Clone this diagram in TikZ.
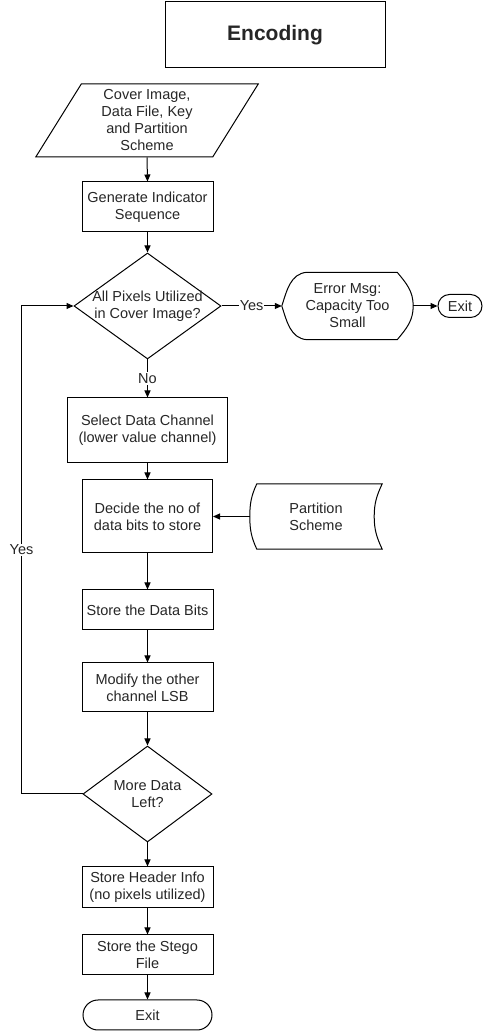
\documentclass[tikz,border=0pt]{standalone}
\usepackage{fontspec}
\setmainfont{Liberation Sans}
\usetikzlibrary{shapes.geometric,shapes.misc,arrows.meta}

\begin{document}
\begin{tikzpicture}
  [x=1pt, y=1pt,
    >={Triangle[length=7pt,width=6pt]},
    every node/.style={font=\fontsize{14.5}{17}\selectfont, text=black!85, align=center, inner sep=1pt},
    process/.style={draw, line width=1pt, minimum width=131pt, minimum height=40pt},
    decision/.style={draw, diamond, line width=1pt, inner sep=0pt},
    term/.style={draw, rounded rectangle, line width=1pt, minimum width=131pt, minimum height=30pt},
    io/.style={draw, trapezium, trapezium left angle=63, trapezium right angle=117,
      trapezium stretches=true, line width=1pt, minimum width=223pt, minimum height=73pt},
    flow/.style={->, line width=1pt},
    lbl/.style={fill=white, inner sep=1pt},
]
\useasboundingbox (0,0) rectangle (487,1032);

\node[draw, line width=1pt, minimum width=220pt, minimum height=66pt,
  font=\bfseries\fontsize{21}{25}\selectfont] (title) at (275,997) {Encoding};

\node[io] (input) at (147,911.5) {Cover Image,\\Data File, Key\\and Partition\\Scheme};
\node[process, minimum height=50pt] (gen) at (147.5,825) {Generate Indicator\\Sequence};
\node[decision, minimum width=147pt, minimum height=106pt,
  label=center:{All Pixels Utilized\\in Cover Image?}] (full) at (147.5,726) {};
\node[minimum width=131pt, minimum height=67pt] (err) at (347.5,726) {Error Msg:\\Capacity Too\\Small};
\node[term, minimum width=46pt, minimum height=23pt] (exitr) at (460,726) {Exit};
\node[process, minimum width=160pt, minimum height=65pt] (select) at (147.5,601.5) {Select Data Channel\\(lower value channel)};
\node[process, minimum width=130pt, minimum height=73pt] (decide) at (147.5,515.5) {Decide the no of\\data bits to store};
\node[minimum width=132pt, minimum height=65pt] (ps) at (316,515.5) {Partition\\Scheme};
\node[process] (bits) at (147.5,422) {Store the Data Bits};
\node[process, minimum height=49pt] (modify) at (147.5,344.5) {Modify the other\\channel LSB};
\node[decision, minimum width=129pt, minimum height=96pt,
  label=center:{More Data\\Left?}] (more) at (147.5,238) {};
\node[process, minimum height=41pt] (header) at (147.5,144.5) {Store Header Info\\(no pixels utilized)};
\node[process] (stego) at (147.5,77) {Store the Stego\\File};
\node[term] (exitb) at (147.5,17) {Exit};

\draw[line width=1pt] ([xshift=25pt]err.north west) -- ([xshift=-16pt]err.north east)
  to[out=-50,in=90] (err.east) to[out=-90,in=50] ([xshift=-16pt]err.south east)
  -- ([xshift=25pt]err.south west) to[out=175,in=-72] (err.west) to[out=72,in=185] cycle;
\draw[line width=1pt] ([xshift=7pt]ps.north west) -- (ps.north east)
  to[out=-115,in=90] ([xshift=-8pt]ps.east) to[out=-90,in=115] (ps.south east)
  -- ([xshift=7pt]ps.south west) to[out=115,in=-90] (ps.west) to[out=90,in=-115] cycle;

\draw[flow] (input.south) -- (gen.north);
\draw[flow] (gen.south) -- (full.north);
\draw[flow] (full.east) -- node[lbl] {Yes} (err.west);
\draw[flow] (err.east) -- (exitr.west);
\draw[flow] (full.south) -- node[lbl] {No} (select.north);
\draw[flow] (select.south) -- (decide.north);
\draw[flow] (ps.west) -- (decide.east);
\draw[flow] (decide.south) -- (bits.north);
\draw[flow] (bits.south) -- (modify.north);
\draw[flow] (modify.south) -- (more.north);
\draw[flow] (more.west) -- ++(-61,0) |- node[lbl, pos=0.25] {Yes} (full.west);
\draw[flow] (more.south) -- (header.north);
\draw[flow] (header.south) -- (stego.north);
\draw[flow] (stego.south) -- (exitb.north);
\end{tikzpicture}
\end{document}
